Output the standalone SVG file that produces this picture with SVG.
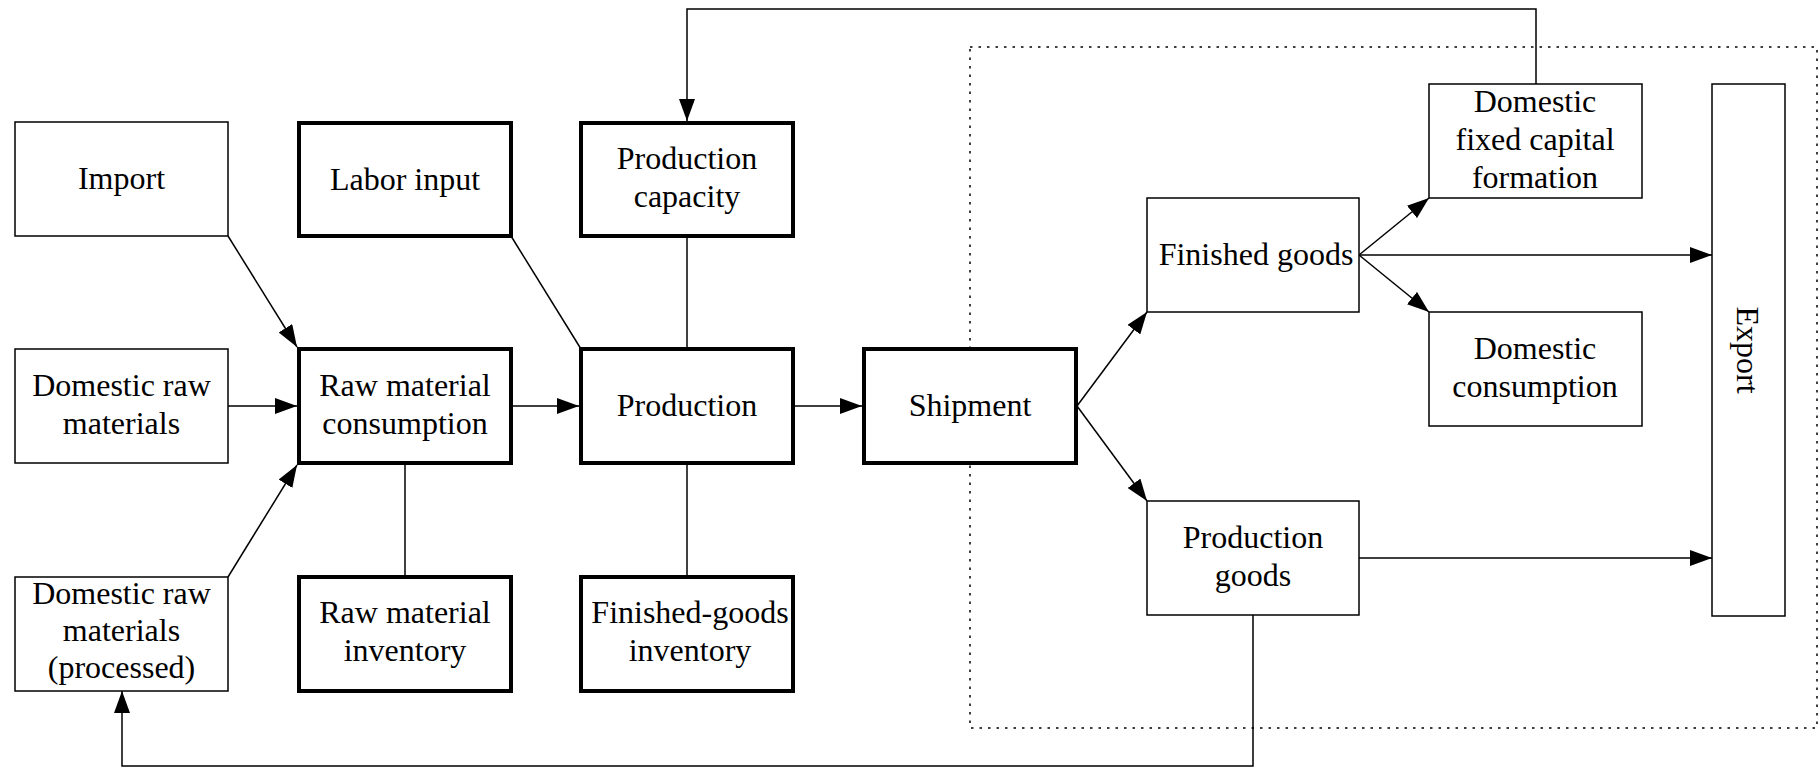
<svg xmlns="http://www.w3.org/2000/svg" width="1819" height="767" viewBox="0 0 1819 767">
<style>
.thin{fill:#fff;stroke:#000;stroke-width:1.5}
.thick{fill:#fff;stroke:#000;stroke-width:4}
.ln{fill:none;stroke:#000;stroke-width:1.5}
.arr{fill:none;stroke:#000;stroke-width:1.5;marker-end:url(#ah)}
.dot{fill:none;stroke:#000;stroke-width:1.5;stroke-dasharray:2.5 6}
text{font-family:"Liberation Serif","Times New Roman",serif;font-size:32px;fill:#000;text-anchor:middle}
</style>
<defs>
<marker id="ah" markerUnits="userSpaceOnUse" markerWidth="22" markerHeight="16" refX="22" refY="8" orient="auto">
<path d="M0,0 L22,8 L0,16 z" fill="#000"/>
</marker>
</defs>
<rect class="dot" x="970" y="47" width="847" height="681"/>
<g id="connectors">
<line class="arr" x1="228" y1="236" x2="297" y2="347"/>
<line class="arr" x1="228" y1="406" x2="297" y2="406"/>
<line class="arr" x1="228" y1="577" x2="297" y2="465"/>
<line class="ln" x1="511" y1="236" x2="581" y2="349"/>
<line class="arr" x1="511" y1="406" x2="579" y2="406"/>
<line class="arr" x1="793" y1="406" x2="862" y2="406"/>
<line class="ln" x1="405" y1="463" x2="405" y2="577"/>
<line class="ln" x1="687" y1="236" x2="687" y2="349"/>
<line class="ln" x1="687" y1="463" x2="687" y2="577"/>
<line class="arr" x1="1077" y1="406" x2="1147" y2="312"/>
<line class="arr" x1="1077" y1="406" x2="1147" y2="501"/>
<line class="arr" x1="1359" y1="255" x2="1429" y2="198"/>
<line class="arr" x1="1359" y1="255" x2="1429" y2="312"/>
<line class="arr" x1="1359" y1="255" x2="1712" y2="255"/>
<line class="arr" x1="1359" y1="558" x2="1712" y2="558"/>
<polyline class="arr" points="1536,84 1536,9 687,9 687,121"/>
<polyline class="arr" points="1253,615 1253,766 122,766 122,691"/>
</g>
<g id="import"><rect class="thin" x="15" y="122" width="213" height="114"/><text x="121.5" y="189">Import</text></g>
<g id="domestic-raw"><rect class="thin" x="15" y="349" width="213" height="114"/><text x="121.5" y="396">Domestic raw</text><text x="121.5" y="434">materials</text></g>
<g id="domestic-raw-processed"><rect class="thin" x="15" y="577" width="213" height="114"/><text x="121.5" y="604">Domestic raw</text><text x="121.5" y="641">materials</text><text x="121.5" y="678">(processed)</text></g>
<g id="labor-input"><rect class="thick" x="299" y="123" width="212" height="113"/><text x="405" y="190">Labor input</text></g>
<g id="raw-material-consumption"><rect class="thick" x="299" y="349" width="212" height="114"/><text x="405" y="396">Raw material</text><text x="405" y="434">consumption</text></g>
<g id="raw-material-inventory"><rect class="thick" x="299" y="577" width="212" height="114"/><text x="405" y="623">Raw material</text><text x="405" y="661">inventory</text></g>
<g id="production-capacity"><rect class="thick" x="581" y="123" width="212" height="113"/><text x="687" y="169">Production</text><text x="687" y="207">capacity</text></g>
<g id="production"><rect class="thick" x="581" y="349" width="212" height="114"/><text x="687" y="416">Production</text></g>
<g id="finished-goods-inventory"><rect class="thick" x="581" y="577" width="212" height="114"/><text x="690" y="623">Finished-goods</text><text x="690" y="661">inventory</text></g>
<g id="shipment"><rect class="thick" x="864" y="349" width="212" height="114"/><text x="970" y="416">Shipment</text></g>
<g id="finished-goods"><rect class="thin" x="1147" y="198" width="212" height="114"/><text x="1256" y="265">Finished goods</text></g>
<g id="production-goods"><rect class="thin" x="1147" y="501" width="212" height="114"/><text x="1253" y="548">Production</text><text x="1253" y="586">goods</text></g>
<g id="domestic-fixed-capital"><rect class="thin" x="1429" y="84" width="213" height="114"/><text x="1535" y="112">Domestic</text><text x="1535" y="150">fixed capital</text><text x="1535" y="188">formation</text></g>
<g id="domestic-consumption"><rect class="thin" x="1429" y="312" width="213" height="114"/><text x="1535" y="359">Domestic</text><text x="1535" y="397">consumption</text></g>
<g id="export"><rect class="thin" x="1712" y="84" width="73" height="532"/><text transform="translate(1737,350) rotate(90)" x="0" y="0">Export</text></g>
</svg>
